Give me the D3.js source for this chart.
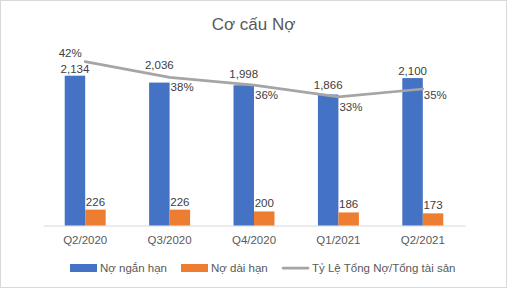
<!DOCTYPE html>
<html>
<head>
<meta charset="utf-8">
<script src="https://cdn.jsdelivr.net/npm/d3@7"></script>
<style>
  body { margin: 0; background: #fff; }
  svg { display: block; font-family: "Liberation Sans", Arial, sans-serif; }
</style>
</head>
<body>
<svg id="chart"></svg>
<script>
let quarters = ['Q2/2020', 'Q3/2020', 'Q4/2020', 'Q1/2021', 'Q2/2021']
let shortDebt = [2134, 2036, 1998, 1866, 2100]
let longDebt = [226, 226, 200, 186, 173]
let debtRatio = [0.42, 0.38, 0.36, 0.33, 0.35]
let seriesNames = ['Nợ ngắn hạn', 'Nợ dài hạn', 'Tỷ Lệ Tổng Nợ/Tổng tài sản']

let W = 507, H = 288
let m = {top: 50, left: 43, right: 42, bottom: 62.5}
let colors = ['#4472C4', '#ED7D31', '#A5A5A5']

let svg = d3.select('#chart').attr('width', W).attr('height', H)

// chart border
svg.append('rect')
    .attr('x', 0.5).attr('y', 0.5)
    .attr('width', W - 1).attr('height', H - 1)
    .attr('fill', '#fff').attr('stroke', '#D9D9D9')

svg.append('text')
    .text('Cơ cấu Nợ')
    .attr('x', W / 2).attr('y', 30)
    .attr('text-anchor', 'middle')
    .attr('font-size', 17)
    .attr('fill', '#595959')

let xScale = d3.scaleBand().domain(quarters).range([m.left, W - m.right])
let subScale = d3.scaleBand().domain(['short', 'long']).range([0, xScale.bandwidth()]).paddingOuter(1.06)
let yScale = d3.scaleLinear().domain([0, 2500]).range([H - m.bottom, m.top])
let y2Scale = d3.scaleLinear().domain([0, 0.45]).range([H - m.bottom, m.top])

let data = quarters.map((q, i) => ({q: q, short: shortDebt[i], long: longDebt[i], ratio: debtRatio[i]}))

let centers = data.map(d => xScale(d.q) + xScale.bandwidth() / 2)
let lineAt = d3.scaleLinear().domain(centers).range(data.map(d => y2Scale(d.ratio)))

// x axis line
let xAxis = d3.axisBottom(xScale).tickSize(0).tickPadding(10)
let gx = svg.append('g')
    .attr('transform', `translate(0, ${H - m.bottom})`)
    .call(xAxis)
gx.select('.domain').attr('stroke', '#D9D9D9')
gx.selectAll('text').attr('font-size', 11.5).attr('fill', '#595959').attr('font-family', '"Liberation Sans", Arial, sans-serif')

let groups = svg.selectAll('.grp')
    .data(data)
    .enter().append('g')
    .attr('transform', d => `translate(${xScale(d.q)}, 0)`)

groups.append('rect')
    .attr('x', subScale('short'))
    .attr('width', subScale.bandwidth())
    .attr('y', d => yScale(d.short))
    .attr('height', d => yScale(0) - yScale(d.short))
    .attr('fill', colors[0])

groups.append('rect')
    .attr('x', subScale('long'))
    .attr('width', subScale.bandwidth())
    .attr('y', d => yScale(d.long))
    .attr('height', d => yScale(0) - yScale(d.long))
    .attr('fill', colors[1])

// blue labels are nudged up where the ratio line would cross them
groups.append('text')
    .text(d => d3.format(',')(d.short))
    .attr('x', subScale('short') + subScale.bandwidth() / 2)
    .attr('y', d => {
        let cx = xScale(d.q) + subScale('short') + subScale.bandwidth() / 2
        let top = yScale(d.short) - 3
        if (cx < centers[0]) return top
        return Math.min(top, lineAt(cx) - 6)
    })
    .attr('text-anchor', 'middle')
    .attr('font-size', 11.5).attr('fill', '#404040')

groups.append('text')
    .text(d => d3.format(',')(d.long))
    .attr('x', subScale('long') + subScale.bandwidth() / 2)
    .attr('y', d => yScale(d.long) - 4)
    .attr('text-anchor', 'middle')
    .attr('font-size', 11.5).attr('fill', '#404040')

// ratio line
let line = d3.line()
    .x(d => xScale(d.q) + xScale.bandwidth() / 2)
    .y(d => y2Scale(d.ratio))

svg.append('path')
    .datum(data)
    .attr('d', line)
    .attr('fill', 'none')
    .attr('stroke', colors[2])
    .attr('stroke-width', 2.75)
    .attr('stroke-linecap', 'round')

svg.selectAll('.pct')
    .data(data)
    .enter().append('text')
    .text(d => d3.format('.0%')(d.ratio))
    .attr('x', (d, i) => xScale(d.q) + xScale.bandwidth() / 2 + (i == 0 ? -15 : 1))
    .attr('y', (d, i) => y2Scale(d.ratio) + (i == 0 ? -5 : (i == 4 ? 10 : 14)))
    .attr('text-anchor', (d, i) => i == 0 ? 'middle' : 'start')
    .attr('font-size', 11.5).attr('fill', '#404040')

// legend
let legendY = 268
let legendX = [70, 181, 282]
let lg = svg.selectAll('.leg')
    .data(seriesNames)
    .enter().append('g')
    .attr('transform', (d, i) => `translate(${legendX[i]}, ${legendY})`)

lg.each(function(d, i) {
    let g = d3.select(this)
    if (i < 2) {
        g.append('rect').attr('x', 0).attr('y', -4).attr('width', 27).attr('height', 8).attr('fill', colors[i])
    } else {
        g.append('line').attr('x1', 1).attr('x2', 26).attr('y1', 0).attr('y2', 0)
            .attr('stroke', colors[2]).attr('stroke-width', 2.75).attr('stroke-linecap', 'round')
    }
    g.append('text').text(d)
        .attr('x', 30).attr('y', 4)
        .attr('font-size', 11.5).attr('fill', '#595959')
})
</script>
</body>
</html>
